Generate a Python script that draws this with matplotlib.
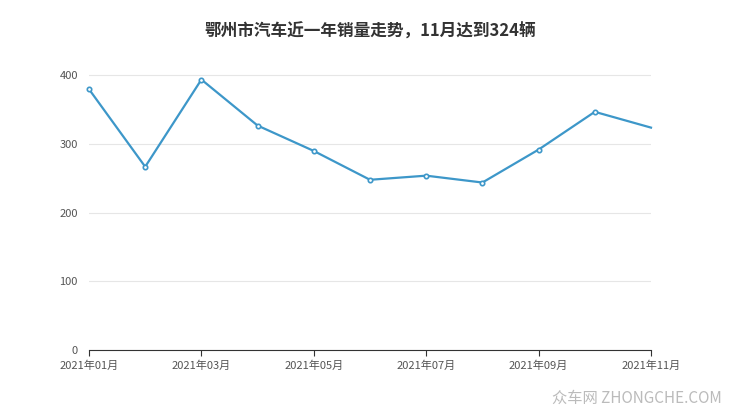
import matplotlib.pyplot as plt

plt.rcParams['font.family'] = ['Noto Sans CJK SC', 'DejaVu Sans']

months = ['2021年01月', '2021年02月', '2021年03月', '2021年04月', '2021年05月', '2021年06月',
          '2021年07月', '2021年08月', '2021年09月', '2021年10月', '2021年11月']
sales = [380, 267, 394, 327, 290, 248, 254, 244, 292, 347, 324]

fig = plt.figure(figsize=(7.4, 4.17), dpi=100)
ax = fig.add_axes([89/740, 1-350/417, (651-89)/740, (350-48)/417])

x = list(range(len(months)))
color = '#3d97c9'
ax.plot(x, sales, color=color, lw=1.6, zorder=3, clip_on=False)
ax.scatter(x[:-1], sales[:-1], s=10, facecolor='white', edgecolor=color, lw=1.2,
           zorder=4, clip_on=False)

ax.set_xlim(0, len(months) - 1)
ax.set_ylim(0, 440)
ax.set_yticks([0, 100, 200, 300, 400])
ax.set_xticks(x[::2])
ax.set_xticklabels(months[::2])
ax.grid(axis='y', color='#e6e6e6', lw=0.8)
ax.set_axisbelow(True)
for s in ['top', 'right', 'left']:
    ax.spines[s].set_visible(False)
ax.spines['bottom'].set_color('#333333')
ax.tick_params(axis='y', length=0, labelsize=8, colors='#555555', pad=8)
ax.tick_params(axis='x', length=4, labelsize=8, colors='#555555', color='#333333')

fig.text(0.5, 1-32/417, '鄂州市汽车近一年销量走势，11月达到324辆', ha='center', va='center',
         fontsize=12, fontweight='bold', color='#333333')
fig.text(0.975, 1-398/417, '众车网 ZHONGCHE.COM', ha='right', va='center',
         fontsize=11, color='#bbbbbb')

fig.savefig('out.png', dpi=100)
